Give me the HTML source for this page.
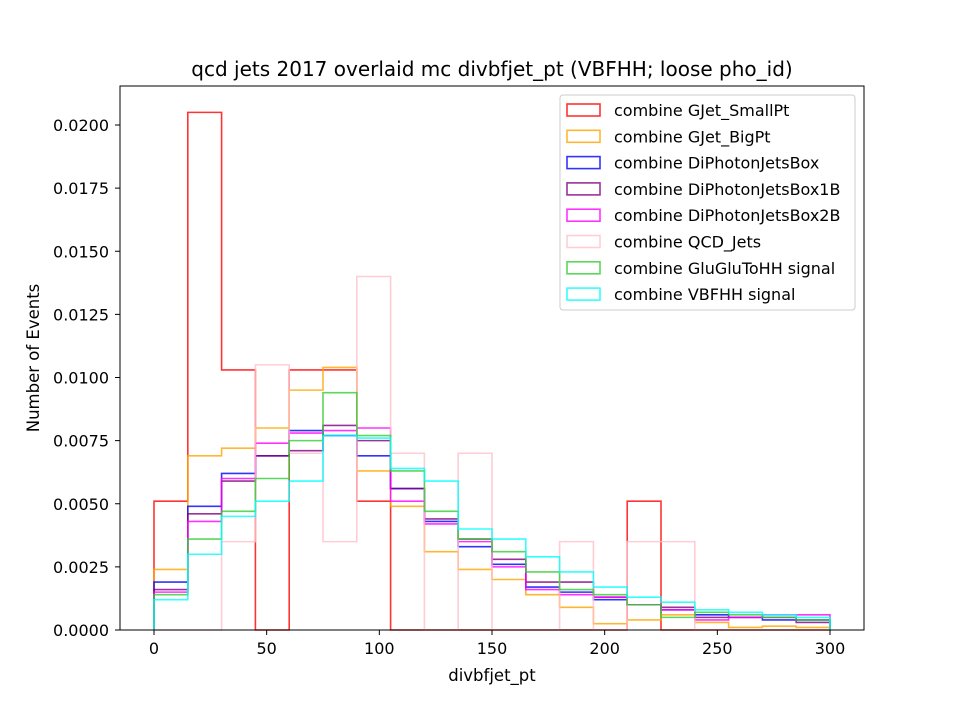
<!DOCTYPE html>
<html><head><meta charset="utf-8"><style>
body{margin:0;background:#fff;}
svg text{font-family:"DejaVu Sans","Liberation Sans",sans-serif;fill:#000;}
</style></head><body>
<svg id="chart" width="960" height="720" xmlns="http://www.w3.org/2000/svg">
<rect x="0" y="0" width="960" height="720" fill="#fff"/>
<g id="plot"></g>
<rect x="120" y="86" width="744" height="544" fill="none" stroke="#000" stroke-width="1"/>
<g id="axes"></g>
<text x="492" y="76" font-size="20" text-anchor="middle">qcd jets 2017 overlaid mc divbfjet_pt (VBFHH; loose pho_id)</text>
<text x="492" y="681" font-size="16.5" text-anchor="middle">divbfjet_pt</text>
<text x="39" y="358" font-size="16.5" text-anchor="middle" transform="rotate(-90 39 358)">Number of Events</text>
<g id="legend"></g>
</svg>
<script>
const binEdges = [0,15,30,45,60,75,90,105,120,135,150,165,180,195,210,225,240,255,270,285,300];
const seriesNames = ["combine GJet_SmallPt","combine GJet_BigPt","combine DiPhotonJetsBox","combine DiPhotonJetsBox1B","combine DiPhotonJetsBox2B","combine QCD_Jets","combine GluGluToHH signal","combine VBFHH signal"];
const seriesColors = ["#ff0000","#ffa500","#0000ff","#800080","#ff00ff","#ffc0cb","#32cd32","#00ffff"];
const gjetSmall = [0.0051,0.0205,0.0103,0,0.0103,0.0103,0.0051,0,0,0,0,0,0,0,0.0051,0,0,0,0,0];
const gjetBig = [0.0024,0.0069,0.0072,0.0080,0.0095,0.0104,0.0063,0.0049,0.0031,0.0024,0.0020,0.0014,0.0009,0.00025,0.0004,0.0006,0.0003,0.0001,0.00015,0.0001];
const diphoBox = [0.0019,0.0049,0.0062,0.0069,0.0079,0.0077,0.0069,0.0056,0.0043,0.0033,0.0026,0.0017,0.0015,0.0012,0.0010,0.0008,0.0006,0.0005,0.0004,0.0004];
const diphoBox1B = [0.0016,0.0046,0.0059,0.0069,0.0071,0.0081,0.0075,0.0056,0.0044,0.0036,0.0028,0.0019,0.0019,0.0013,0.0010,0.0009,0.0005,0.0005,0.0005,0.0003];
const diphoBox2B = [0.0015,0.0043,0.0060,0.0074,0.0078,0.0079,0.0080,0.0051,0.0042,0.0035,0.0025,0.0016,0.0014,0.0013,0.0010,0.0008,0.0004,0.0005,0.0006,0.0006];
const qcdJets = [0,0,0.0035,0.0105,0.0070,0.0035,0.0140,0.0070,0,0.0070,0,0,0.0035,0,0.0035,0.0035,0,0,0,0];
const ggHH = [0.0014,0.0036,0.0047,0.0060,0.0075,0.0094,0.0077,0.0063,0.0047,0.0036,0.0031,0.0023,0.0016,0.0014,0.0010,0.0005,0.0007,0.0006,0.0005,0.0004];
const vbfHH = [0.0012,0.0030,0.0045,0.0051,0.0059,0.0077,0.0076,0.0064,0.0059,0.0040,0.0036,0.0029,0.0023,0.0017,0.0013,0.0011,0.0008,0.0007,0.0006,0.0005];
const xTicks = [0,50,100,150,200,250,300];
const yTicks = [0,0.0025,0.005,0.0075,0.01,0.0125,0.015,0.0175,0.02];
const yTickLabels = ["0.0000","0.0025","0.0050","0.0075","0.0100","0.0125","0.0150","0.0175","0.0200"];

const allSeries = [gjetSmall,gjetBig,diphoBox,diphoBox1B,diphoBox2B,qcdJets,ggHH,vbfHH];
const NS="http://www.w3.org/2000/svg";
function xs(v){return 154 + (v-0)*(830-154)/300;}
function ys(v){return 630 - v*25250;}
const plot=document.getElementById('plot');
allSeries.forEach((vals,si)=>{
  let d="M"+xs(binEdges[0])+","+ys(0);
  vals.forEach((v,i)=>{ d+=" L"+xs(binEdges[i])+","+ys(v)+" L"+xs(binEdges[i+1])+","+ys(v); });
  d+=" L"+xs(binEdges[binEdges.length-1])+","+ys(0);
  const p=document.createElementNS(NS,'path');
  p.setAttribute('d',d);p.setAttribute('fill','none');
  p.setAttribute('stroke',seriesColors[si]);p.setAttribute('stroke-width','1.6');p.setAttribute('stroke-opacity','0.8');
  
  
  plot.appendChild(p);
});
const axes=document.getElementById('axes');
xTicks.forEach(t=>{
  const l=document.createElementNS(NS,'line');
  l.setAttribute('x1',xs(t));l.setAttribute('x2',xs(t));l.setAttribute('y1',630);l.setAttribute('y2',635);l.setAttribute('stroke','#000');
  
  
  axes.appendChild(l);
  const tx=document.createElementNS(NS,'text');
  tx.setAttribute('x',xs(t));tx.setAttribute('y',654);tx.setAttribute('font-size','16');tx.setAttribute('text-anchor','middle');
  tx.textContent=t;
  
  
  axes.appendChild(tx);
});
yTicks.forEach((t,i)=>{
  const l=document.createElementNS(NS,'line');
  l.setAttribute('x1',115);l.setAttribute('x2',120);l.setAttribute('y1',ys(t));l.setAttribute('y2',ys(t));l.setAttribute('stroke','#000');
  
  
  axes.appendChild(l);
  const tx=document.createElementNS(NS,'text');
  tx.setAttribute('x',109);tx.setAttribute('y',ys(t)+6);tx.setAttribute('font-size','16');tx.setAttribute('text-anchor','end');
  tx.textContent=yTickLabels[i];
  
  
  axes.appendChild(tx);
});
const lg=document.getElementById('legend');
const box=document.createElementNS(NS,'rect');
box.setAttribute('x',560);box.setAttribute('y',95);box.setAttribute('width',295);box.setAttribute('height',215);box.setAttribute('rx',3);
box.setAttribute('fill','#fff');box.setAttribute('fill-opacity','0.8');box.setAttribute('stroke','#ccc');


lg.appendChild(box);
seriesNames.forEach((n,i)=>{
  const y=110+i*26.3;
  const r=document.createElementNS(NS,'rect');
  r.setAttribute('x',567);r.setAttribute('y',y-6);r.setAttribute('width',33);r.setAttribute('height',12);
  r.setAttribute('fill','none');r.setAttribute('stroke',seriesColors[i]);r.setAttribute('stroke-width','1.6');r.setAttribute('stroke-opacity','0.8');
  
  
  lg.appendChild(r);
  const t=document.createElementNS(NS,'text');
  t.setAttribute('x',614);t.setAttribute('y',y+6);t.setAttribute('font-size','16');
  t.textContent=n;
  
  
  lg.appendChild(t);
});
</script>
</body></html>
